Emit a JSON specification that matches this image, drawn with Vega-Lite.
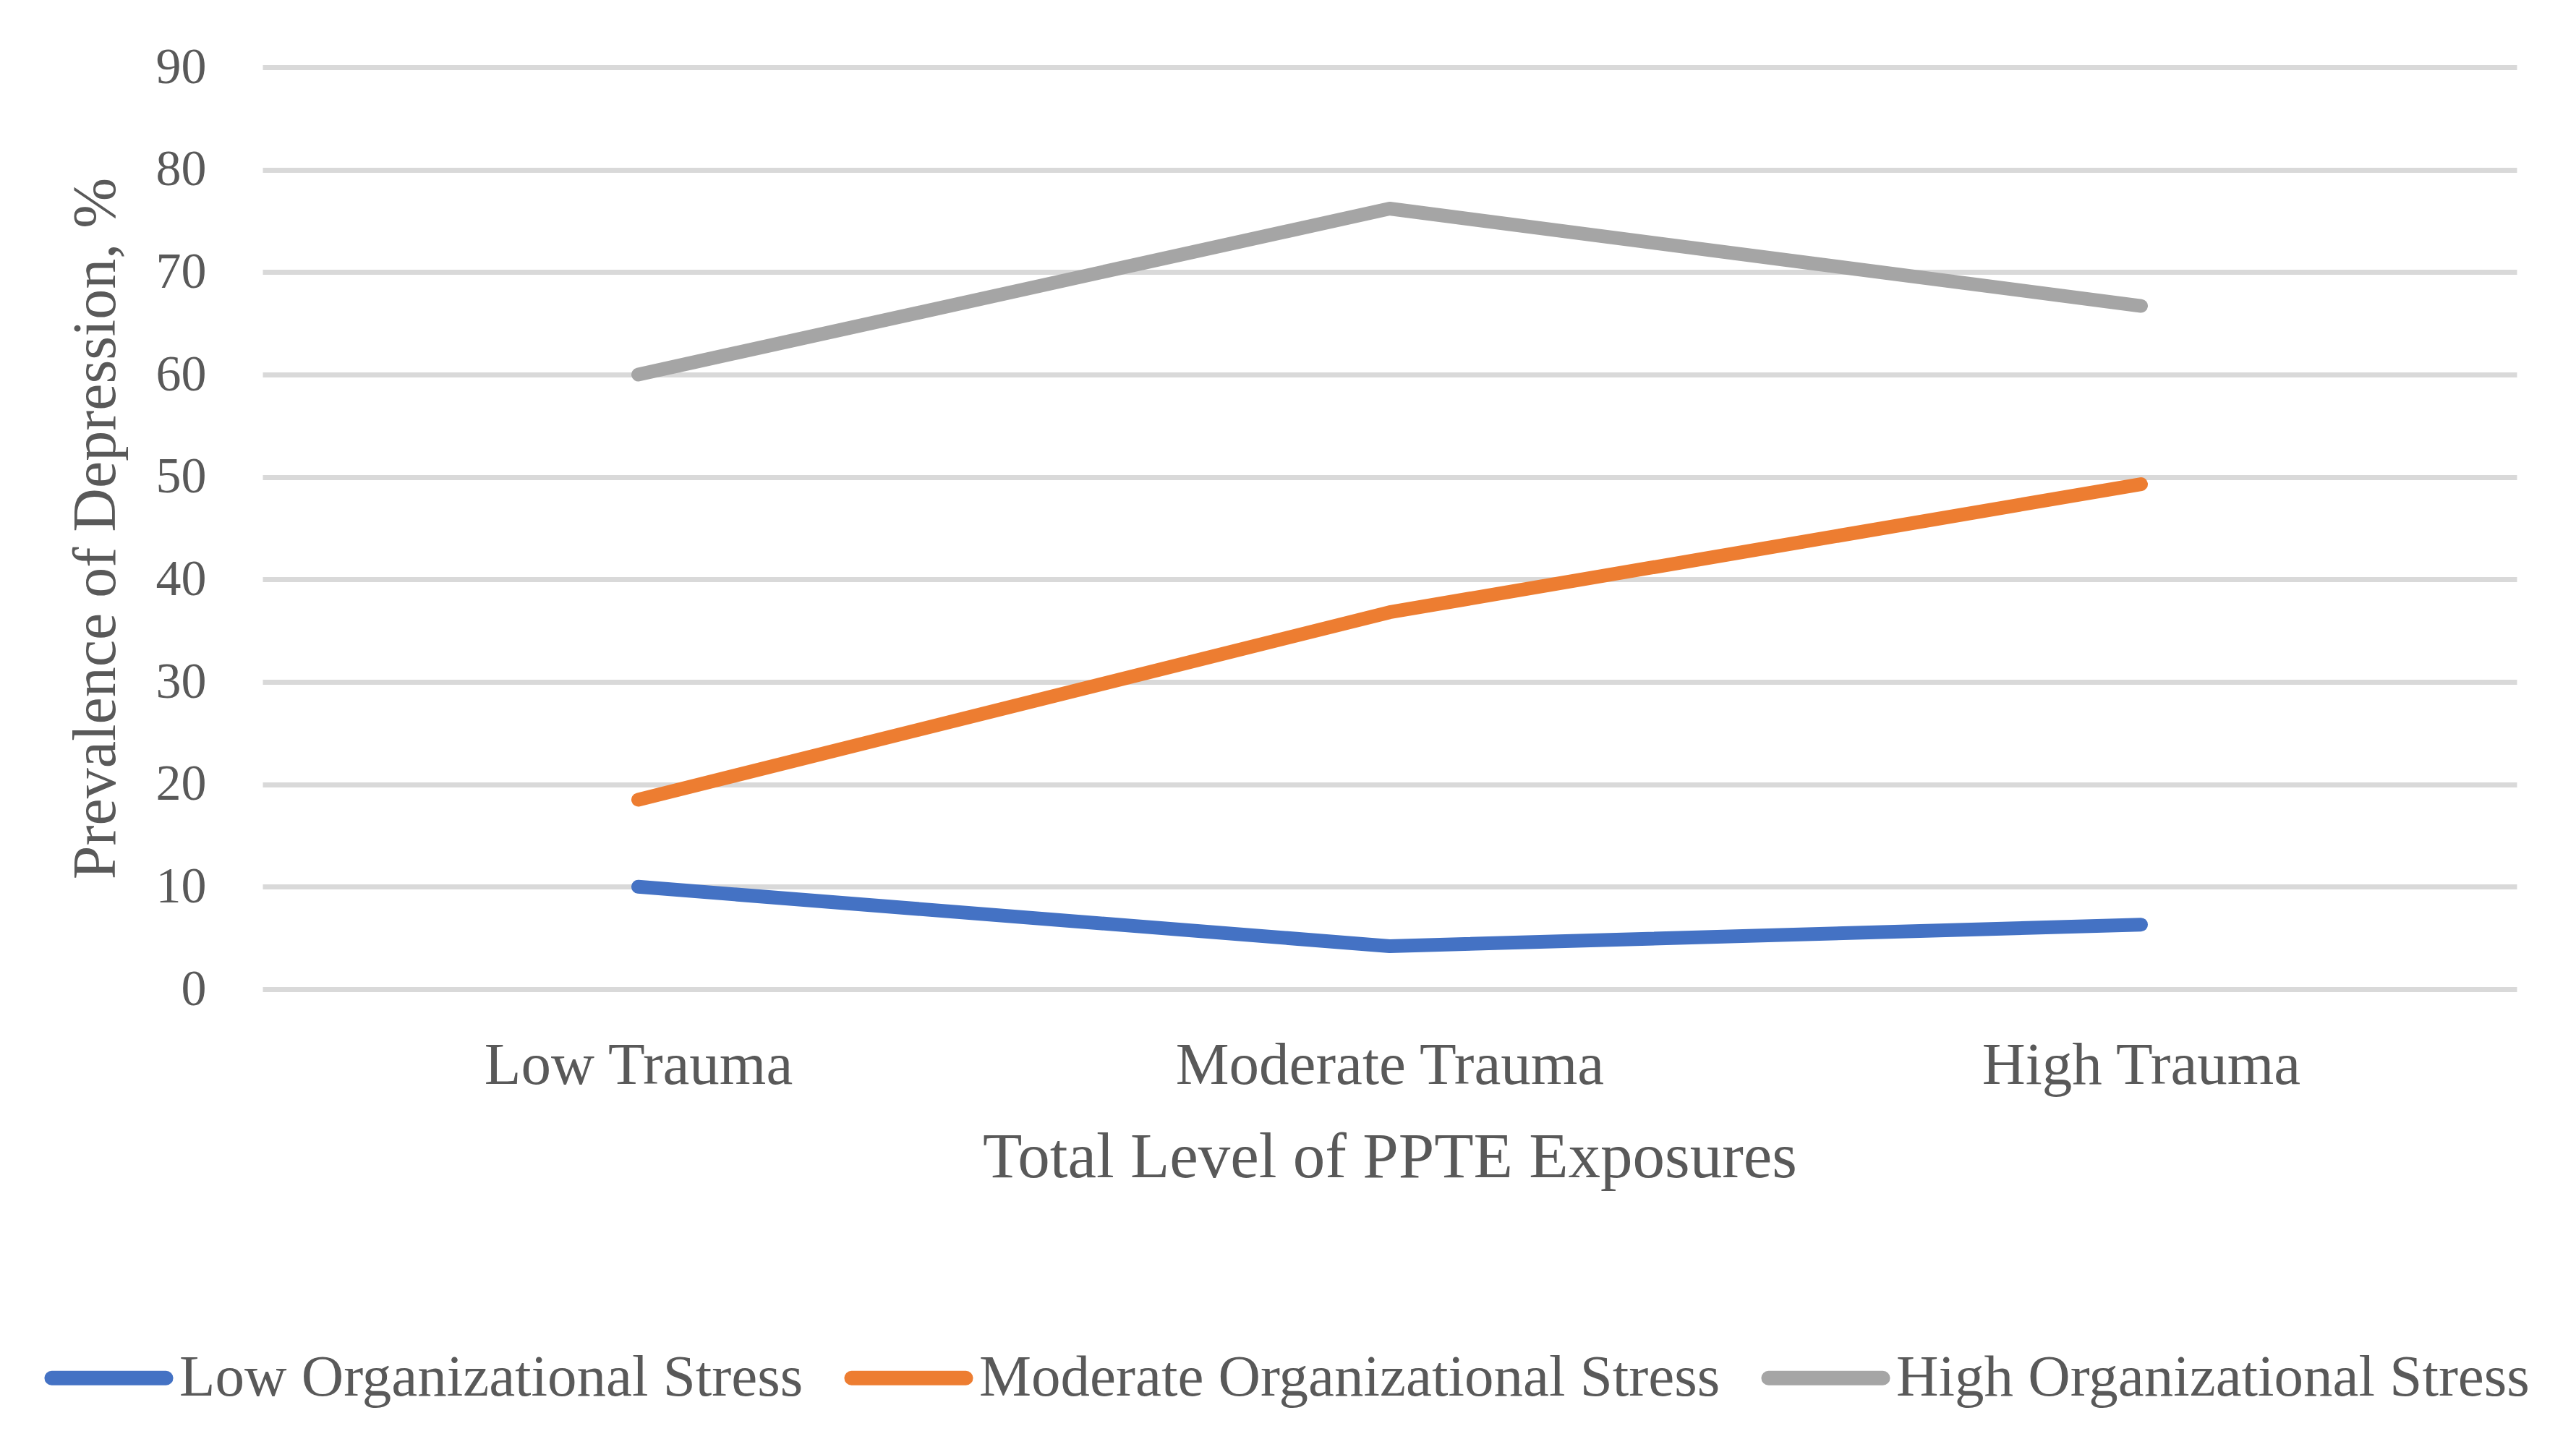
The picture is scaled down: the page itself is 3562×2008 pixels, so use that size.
{
  "$schema": "https://vega.github.io/schema/vega-lite/v6.json",
  "width": 3117,
  "height": 1275,
  "autosize": "none",
  "padding": {"left": 363, "top": 93, "right": 82, "bottom": 640},
  "background": "white",
  "data": {
    "values": [
      {"trauma": "Low Trauma", "stress": "Low Organizational Stress", "prevalence": 10.0},
      {"trauma": "Moderate Trauma", "stress": "Low Organizational Stress", "prevalence": 4.2},
      {"trauma": "High Trauma", "stress": "Low Organizational Stress", "prevalence": 6.3},
      {"trauma": "Low Trauma", "stress": "Moderate Organizational Stress", "prevalence": 18.5},
      {"trauma": "Moderate Trauma", "stress": "Moderate Organizational Stress", "prevalence": 36.8},
      {"trauma": "High Trauma", "stress": "Moderate Organizational Stress", "prevalence": 49.3},
      {"trauma": "Low Trauma", "stress": "High Organizational Stress", "prevalence": 60.0},
      {"trauma": "Moderate Trauma", "stress": "High Organizational Stress", "prevalence": 76.2},
      {"trauma": "High Trauma", "stress": "High Organizational Stress", "prevalence": 66.7}
    ]
  },
  "mark": {"type": "line", "strokeWidth": 19, "strokeCap": "round", "strokeJoin": "round"},
  "encoding": {
    "x": {
      "field": "trauma",
      "type": "ordinal",
      "sort": ["Low Trauma", "Moderate Trauma", "High Trauma"],
      "title": "Total Level of PPTE Exposures",
      "scale": {"type": "point", "padding": 0.5},
      "axis": {
        "labelAngle": 0,
        "labelLimit": 2000,
        "grid": false,
        "domain": false,
        "ticks": false,
        "labelFontSize": 83,
        "labelPadding": 64,
        "titleFontSize": 89,
        "titlePadding": 42,
        "titleFontWeight": "normal"
      }
    },
    "y": {
      "field": "prevalence",
      "type": "quantitative",
      "title": "Prevalence of Depression, %",
      "scale": {"domain": [0, 90], "nice": false},
      "axis": {
        "values": [0, 10, 20, 30, 40, 50, 60, 70, 80, 90],
        "domain": false,
        "ticks": false,
        "grid": true,
        "gridColor": "#d9d9d9",
        "gridWidth": 7,
        "labelFontSize": 70,
        "labelPadding": 78,
        "titleFontSize": 84,
        "titlePadding": 39,
        "titleFontWeight": "normal"
      }
    },
    "color": {
      "field": "stress",
      "type": "nominal",
      "title": null,
      "scale": {
        "domain": ["Low Organizational Stress", "Moderate Organizational Stress", "High Organizational Stress"],
        "range": ["#4472C4", "#ED7D31", "#A5A5A5"]
      },
      "legend": {
        "orient": "none",
        "legendX": -302,
        "legendY": 1723,
        "direction": "horizontal",
        "symbolType": "stroke",
        "symbolSize": 25000,
        "symbolStrokeWidth": 20,
        "labelFontSize": 81,
        "labelLimit": 2000,
        "labelOffset": 8,
        "columnPadding": 26,
        "encode": {"symbols": {"update": {"strokeCap": {"value": "round"}}}}
      }
    }
  },
  "config": {
    "view": {"stroke": null},
    "font": "Liberation Serif",
    "axis": {"labelColor": "#595959", "titleColor": "#595959", "labelFont": "Liberation Serif", "titleFont": "Liberation Serif"},
    "legend": {"labelColor": "#595959", "labelFont": "Liberation Serif"}
  }
}
